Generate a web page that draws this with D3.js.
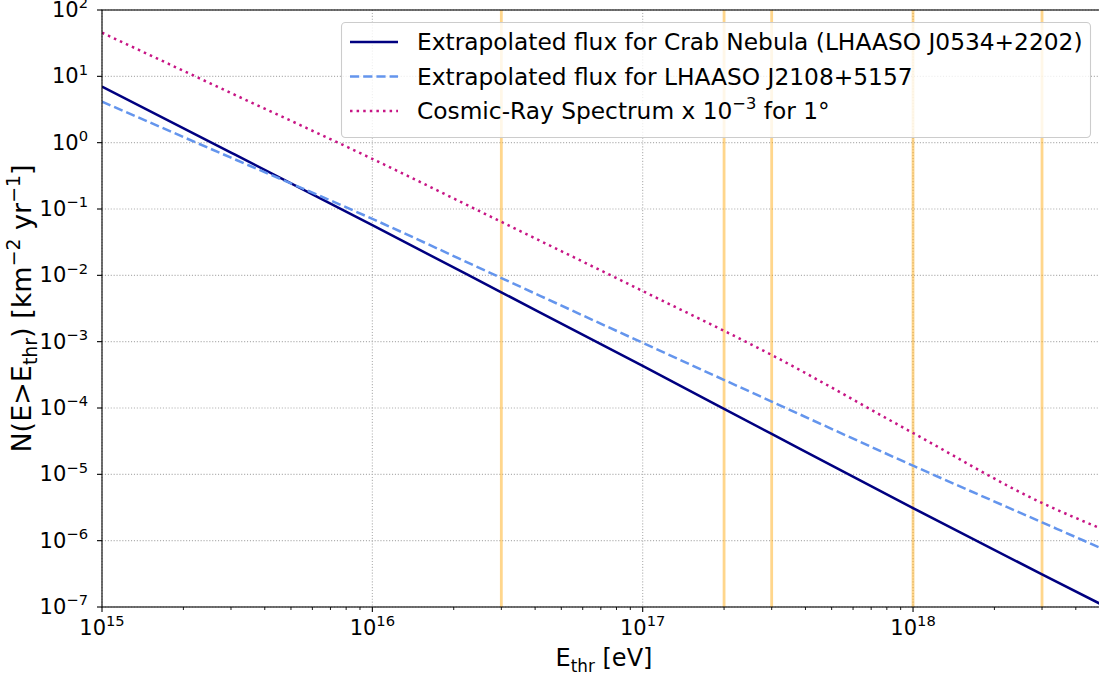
<!DOCTYPE html>
<html>
<head>
<meta charset="utf-8">
<script src="https://cdn.jsdelivr.net/npm/d3@7"></script>
<style>
body { margin: 0; background: #fff; }
svg { display: block; font-family: "DejaVu Sans", sans-serif; }
</style>
</head>
<body>
<div id="chart"></div>
<script>
// values
var energies = [1e15, 3e15, 1e16, 3e16, 1e17, 3e17, 1e18, 3e18, 5e18];
var crabFlux = [7.0, 0.71, 0.057, 5.55e-3, 4.3e-4, 4.06e-5, 3.1e-6, 3.1e-7, 1.08e-7];
var j2108Flux = [4.15, 0.594, 0.071, 9.1e-3, 9.6e-4, 1.25e-4, 1.35e-5, 1.89e-6, 7.6e-7];
var cosmicRayFlux = [45.5, 5.6, 0.57, 0.064, 5.8e-3, 6.3e-4, 4.2e-5, 3.7e-6, 1.5e-6];
var markerEnergies = [3e16, 2e17, 3e17, 1e18, 3e18];
var xTickExponents = [15, 16, 17, 18];
var yTickExponents = [-7, -6, -5, -4, -3, -2, -1, 0, 1, 2];

var W = 1099, H = 677;
var mLeft = 102, mTop = 10, mRight = 1102, mBottom = 607;
var tickFs = 21, labelFs = 24, yLabelFs = 27, legendFs = 23.3;

var svg = d3.select("#chart").append("svg").attr("width", W).attr("height", H);

var x = d3.scaleLog().domain([1e15, 5e18]).range([mLeft, mRight]);
var y = d3.scaleLog().domain([1e-7, 1e2]).range([mBottom, mTop]);

svg.append("defs").append("clipPath").attr("id", "plot")
    .append("rect").attr("x", mLeft).attr("y", mTop)
    .attr("width", mRight - mLeft).attr("height", mBottom - mTop);

// write "10^n" style text with tspans
function addRich(sel, parts, size) {
    var shift = 0;
    parts.forEach(function (p) {
        var target = p[1] == "sup" ? -0.42 * size : (p[1] == "sub" ? 0.24 * size : 0);
        sel.append("tspan")
            .attr("dy", target - shift)
            .style("font-size", (p[1] ? 0.7 * size : size) + "px")
            .text(p[0]);
        shift = target;
    });
}
function expText(e) {
    return String(e).replace("-", "\u2212");
}

// grid
var xMajor = xTickExponents.map(function (e) { return Math.pow(10, e); });
var yMajor = yTickExponents.map(function (e) { return Math.pow(10, e); });

svg.append("g").selectAll("line").data(xMajor).enter().append("line")
    .attr("x1", function (d) { return x(d); }).attr("x2", function (d) { return x(d); })
    .attr("y1", mTop).attr("y2", mBottom)
    .attr("stroke", "#b0b0b0").attr("stroke-width", 1.1).attr("stroke-dasharray", "1.1,1.8");
svg.append("g").selectAll("line").data(yMajor).enter().append("line")
    .attr("x1", mLeft).attr("x2", mRight)
    .attr("y1", function (d) { return y(d); }).attr("y2", function (d) { return y(d); })
    .attr("stroke", "#b0b0b0").attr("stroke-width", 1.1).attr("stroke-dasharray", "1.1,1.8");

// orange markers
svg.append("g").selectAll("line").data(markerEnergies).enter().append("line")
    .attr("x1", function (d) { return x(d); }).attr("x2", function (d) { return x(d); })
    .attr("y1", mTop).attr("y2", mBottom)
    .attr("stroke", "orange").attr("stroke-opacity", 0.45).attr("stroke-width", 2.8);

// curves
var series = [
    { values: crabFlux, color: "#000080", dash: null },
    { values: j2108Flux, color: "#6495ed", dash: "9.2,4" },
    { values: cosmicRayFlux, color: "#c71585", dash: "2.5,4.1" }
];
var line = d3.line()
    .x(function (d) { return x(d[0]); })
    .y(function (d) { return y(d[1]); })
    .curve(d3.curveMonotoneX);

var curves = svg.append("g").attr("clip-path", "url(#plot)");
series.forEach(function (s) {
    curves.append("path")
        .datum(energies.map(function (e, i) { return [e, s.values[i]]; }))
        .attr("d", line)
        .attr("fill", "none")
        .attr("stroke", s.color)
        .attr("stroke-width", 2.5)
        .attr("stroke-dasharray", s.dash);
});

// spines
svg.append("rect").attr("x", mLeft).attr("y", mTop)
    .attr("width", mRight - mLeft).attr("height", mBottom - mTop)
    .attr("fill", "none").attr("stroke", "#000").attr("stroke-width", 1.1);

// x minor ticks
var xMinor = [];
for (var e = 15; e <= 18; e++) {
    for (var m = 2; m <= 9; m++) {
        if (m * Math.pow(10, e) <= 5e18) xMinor.push(m * Math.pow(10, e));
    }
}
svg.append("g").selectAll("line").data(xMinor).enter().append("line")
    .attr("x1", function (d) { return x(d); }).attr("x2", function (d) { return x(d); })
    .attr("y1", mBottom).attr("y2", mBottom + 3)
    .attr("stroke", "#000").attr("stroke-width", 0.9);

// x major ticks + labels
var xt = svg.append("g").selectAll("g").data(xTickExponents).enter().append("g")
    .attr("transform", function (d) { return "translate(" + x(Math.pow(10, d)) + "," + mBottom + ")"; });
xt.append("line").attr("y2", 5).attr("stroke", "#000").attr("stroke-width", 1.1);
xt.append("text").attr("y", 28).attr("text-anchor", "middle").attr("fill", "#000")
    .each(function (d) { addRich(d3.select(this), [["10", null], [expText(d), "sup"]], tickFs); });

// y major ticks + labels
var yt = svg.append("g").selectAll("g").data(yTickExponents).enter().append("g")
    .attr("transform", function (d) { return "translate(" + mLeft + "," + y(Math.pow(10, d)) + ")"; });
yt.append("line").attr("x2", -5).attr("stroke", "#000").attr("stroke-width", 1.1);
yt.append("text").attr("x", -14).attr("y", 7).attr("text-anchor", "end").attr("fill", "#000")
    .each(function (d) { addRich(d3.select(this), [["10", null], [expText(d), "sup"]], tickFs); });

// axis titles
var xl = svg.append("text").attr("x", 604).attr("y", 666)
    .attr("text-anchor", "middle").attr("fill", "#000");
addRich(xl, [["E", null], ["thr", "sub"], [" [eV]", null]], labelFs);

var yl = svg.append("text").attr("transform", "translate(31," + ((mTop + mBottom) / 2) + ") rotate(-90)")
    .attr("text-anchor", "middle").attr("fill", "#000");
addRich(yl, [["N(E>E", null], ["thr", "sub"], [") [km", null], ["\u22122", "sup"], [" yr", null], ["\u22121", "sup"], ["]", null]], yLabelFs);

// legend
var legend = svg.append("g");
legend.append("rect").attr("x", 341.5).attr("y", 22.5).attr("width", 749).attr("height", 115)
    .attr("rx", 4).attr("fill", "#fff").attr("fill-opacity", 0.8)
    .attr("stroke", "#cccccc").attr("stroke-width", 1.1);
var legendRows = [
    [["Extrapolated flux for Crab Nebula (LHAASO J0534+2202)", null]],
    [["Extrapolated flux for LHAASO J2108+5157", null]],
    [["Cosmic-Ray Spectrum x 10", null], ["\u22123", "sup"], [" for 1\u00b0", null]]
];
legendRows.forEach(function (parts, i) {
    var ry = 42 + i * 34.5;
    legend.append("line").attr("x1", 350).attr("x2", 398).attr("y1", ry).attr("y2", ry)
        .attr("stroke", series[i].color).attr("stroke-width", 2.5)
        .attr("stroke-dasharray", series[i].dash);
    var t = legend.append("text").attr("x", 417).attr("y", ry + 8).attr("fill", "#000");
    addRich(t, parts, legendFs);
});
</script>
</body>
</html>
